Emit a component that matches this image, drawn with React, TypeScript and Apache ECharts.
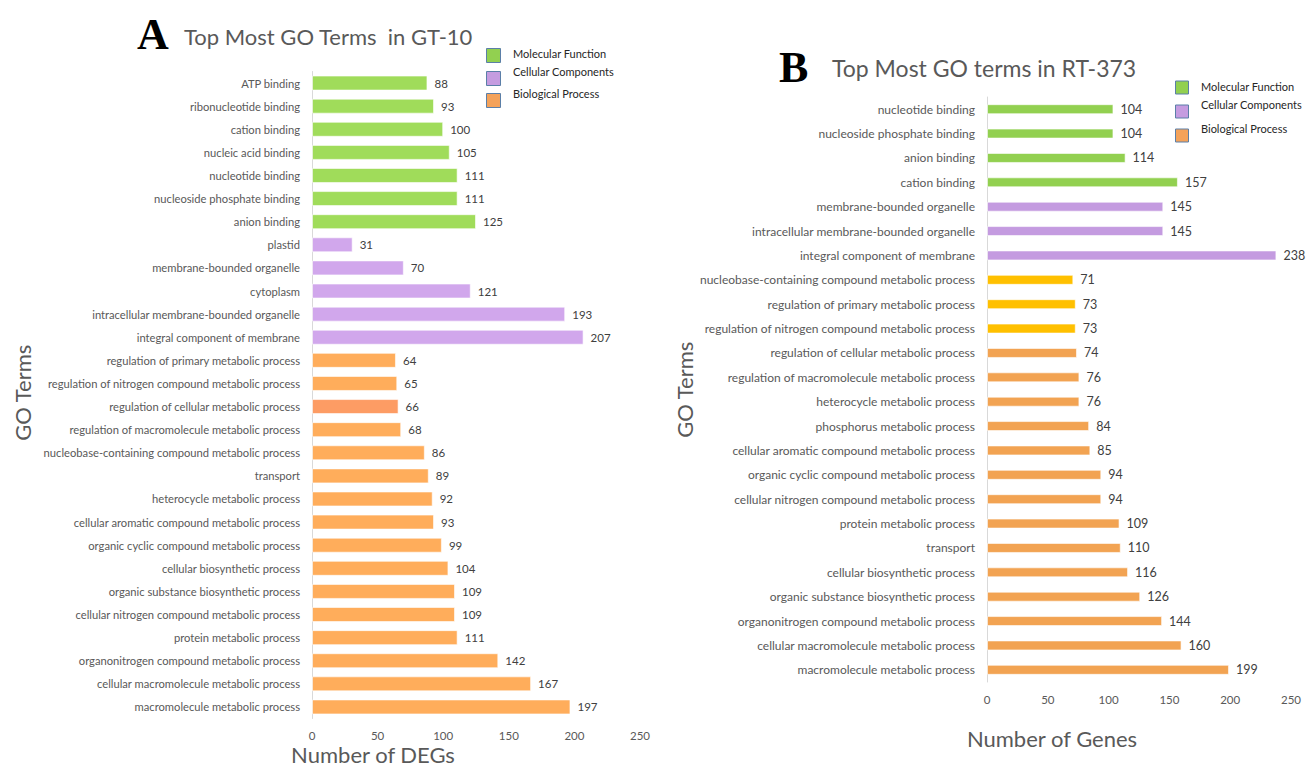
import React, { useEffect, useRef } from "react";
import * as echarts from "echarts";

// ---------- Data: panel A (GT-10) ----------
const catsA = [
  "ATP binding", "ribonucleotide binding", "cation binding", "nucleic acid binding",
  "nucleotide binding", "nucleoside phosphate binding", "anion binding",
  "plastid", "membrane-bounded organelle", "cytoplasm",
  "intracellular membrane-bounded organelle", "integral component of membrane",
  "regulation of primary metabolic process", "regulation of nitrogen compound metabolic process",
  "regulation of cellular metabolic process", "regulation of macromolecule metabolic process",
  "nucleobase-containing compound metabolic process", "transport",
  "heterocycle metabolic process", "cellular aromatic compound metabolic process",
  "organic cyclic compound metabolic process", "cellular biosynthetic process",
  "organic substance biosynthetic process", "cellular nitrogen compound metabolic process",
  "protein metabolic process", "organonitrogen compound metabolic process",
  "cellular macromolecule metabolic process", "macromolecule metabolic process",
];
const valsA = [88, 93, 100, 105, 111, 111, 125, 31, 70, 121, 193, 207, 64, 65, 66, 68, 86, 89, 92, 93, 99, 104, 109, 109, 111, 142, 167, 197];
const groupsA = ["MF", "MF", "MF", "MF", "MF", "MF", "MF", "CC", "CC", "CC", "CC", "CC",
  "BP", "BP", "BPs", "BP", "BP", "BP", "BP", "BP", "BP", "BP", "BP", "BP", "BP", "BP", "BP", "BP"];

// ---------- Data: panel B (RT-373) ----------
const catsB = [
  "nucleotide binding", "nucleoside phosphate binding", "anion binding", "cation binding",
  "membrane-bounded organelle", "intracellular membrane-bounded organelle",
  "integral component of membrane",
  "nucleobase-containing compound metabolic process", "regulation of primary metabolic process",
  "regulation of nitrogen compound metabolic process", "regulation of cellular metabolic process",
  "regulation of macromolecule metabolic process", "heterocycle metabolic process",
  "phosphorus metabolic process", "cellular aromatic compound metabolic process",
  "organic cyclic compound metabolic process", "cellular nitrogen compound metabolic process",
  "protein metabolic process", "transport", "cellular biosynthetic process",
  "organic substance biosynthetic process", "organonitrogen compound metabolic process",
  "cellular macromolecule metabolic process", "macromolecule metabolic process",
];
const valsB = [104, 104, 114, 157, 145, 145, 238, 71, 73, 73, 74, 76, 76, 84, 85, 94, 94, 109, 110, 116, 126, 144, 160, 199];
const groupsB = ["MF", "MF", "MF", "MF", "CC", "CC", "CC", "BPy", "BPy", "BPy",
  "BP", "BP", "BP", "BP", "BP", "BP", "BP", "BP", "BP", "BP", "BP", "BP", "BP", "BP"];

const xTicks = [0, 50, 100, 150, 200, 250];
const legendNames = ["Molecular Function", "Cellular Components", "Biological Process"];

const colorsA: Record<string, string> = { MF: "#a0dc5a", CC: "#d1a7ec", BP: "#ffad5b", BPs: "#fd9c64" };
const colorsB: Record<string, string> = { MF: "#92d050", CC: "#c49be0", BP: "#f2a352", BPy: "#ffc000" };
const legendColorsA = ["#92d050", "#c59ce0", "#f4a25a"];
const legendColorsB = ["#92d050", "#c59ce0", "#f4a25a"];

const FONT = "Lato, 'Open Sans', sans-serif";

export default function App() {
  const ref = useRef<HTMLDivElement>(null);
  useEffect(() => {
    if (!ref.current) return;
    const chart = echarts.init(ref.current, null, { renderer: "svg" });

    const makeX = (gridIndex: number) => ({
      type: "value" as const,
      gridIndex,
      min: xTicks[0],
      max: xTicks[xTicks.length - 1],
      interval: xTicks[1] - xTicks[0],
      axisLine: { show: false },
      axisTick: { show: false },
      splitLine: { show: false },
      axisLabel: { color: "#595959", fontSize: 11.5, fontFamily: FONT, margin: 11 },
    });
    const makeY = (gridIndex: number, cats: string[], fs: number) => ({
      type: "category" as const,
      gridIndex,
      data: cats,
      inverse: true,
      axisLine: { show: true, lineStyle: { color: "#d9d9d9", width: 1 } },
      axisTick: { show: false },
      axisLabel: { color: "#595959", fontSize: fs, fontFamily: FONT, margin: 12 },
    });

    const legendGraphics = (x: number, ys: number[], boxYs: number[], cols: string[], size: number) =>
      legendNames.flatMap((n, i) => [
        {
          type: "rect",
          left: x,
          top: boxYs[i] - size / 2,
          shape: { width: size, height: size },
          style: { fill: cols[i], stroke: "#5b7fa8", lineWidth: 1 },
        },
        {
          type: "text",
          left: x + size + 13,
          top: ys[i] - 7,
          style: { text: n, fill: "#262626", fontSize: 11, fontFamily: FONT },
        },
      ]);

    chart.setOption({
      animation: false,
      backgroundColor: "#ffffff",
      grid: [
        { left: 312, top: 71.5, width: 328, height: 647, containLabel: false },
        { left: 987, top: 97, width: 304, height: 585, containLabel: false },
      ],
      xAxis: [makeX(0), makeX(1)],
      yAxis: [makeY(0, catsA, 11.2), makeY(1, catsB, 12)],
      series: [
        {
          type: "bar",
          xAxisIndex: 0,
          yAxisIndex: 0,
          barWidth: 15,
          data: valsA.map((v, i) => ({
            value: v,
            itemStyle: { color: colorsA[groupsA[i]], borderColor: "rgba(255,255,255,0.6)", borderWidth: 1 },
          })),
          label: { show: true, position: "right", distance: 7, color: "#404040", fontSize: 11.5, fontFamily: FONT },
        },
        {
          type: "bar",
          xAxisIndex: 1,
          yAxisIndex: 1,
          barWidth: 10,
          data: valsB.map((v, i) => ({
            value: v,
            itemStyle: { color: colorsB[groupsB[i]], borderColor: "rgba(255,255,255,0.6)", borderWidth: 1 },
          })),
          label: { show: true, position: "right", distance: 7, color: "#404040", fontSize: 12.5, fontFamily: FONT },
        },
      ],
      graphic: [
        // Panel A title
        { type: "text", left: 137, top: 12, style: { text: "A", fill: "#000", fontSize: 44, fontWeight: "bold", fontFamily: "'Liberation Serif', 'DejaVu Serif', serif" } },
        { type: "text", left: 184, top: 25, style: { text: "Top Most GO Terms  in GT-10", fill: "#595959", fontSize: 22, fontFamily: FONT } },
        // Panel B title
        { type: "text", left: 779, top: 45, style: { text: "B", fill: "#000", fontSize: 44, fontWeight: "bold", fontFamily: "'Liberation Serif', 'DejaVu Serif', serif" } },
        { type: "text", left: 832, top: 56, style: { text: "Top Most GO terms in RT-373", fill: "#595959", fontSize: 23, fontFamily: FONT } },
        // Axis titles
        { type: "text", left: 11, top: 344, rotation: Math.PI / 2, style: { text: "GO Terms", fill: "#595959", fontSize: 22, fontFamily: FONT } },
        { type: "text", left: 673, top: 341, rotation: Math.PI / 2, style: { text: "GO Terms", fill: "#595959", fontSize: 22, fontFamily: FONT } },
        { type: "text", x: 373, y: 754, style: { text: "Number of DEGs", fill: "#595959", fontSize: 22, fontFamily: FONT, align: "center", verticalAlign: "middle" } },
        { type: "text", x: 1052, y: 738, style: { text: "Number of Genes", fill: "#595959", fontSize: 22, fontFamily: FONT, align: "center", verticalAlign: "middle" } },
        // Legends
        ...legendGraphics(486, [55, 73, 95], [55, 78, 100], legendColorsA, 14),
        ...legendGraphics(1175, [88, 106, 130], [87, 111, 135], legendColorsB, 13),
      ],
    });
    return () => chart.dispose();
  }, []);

  return <div ref={ref} style={{ position: "fixed", left: 0, top: 0, width: 1311, height: 768 }} />;
}
